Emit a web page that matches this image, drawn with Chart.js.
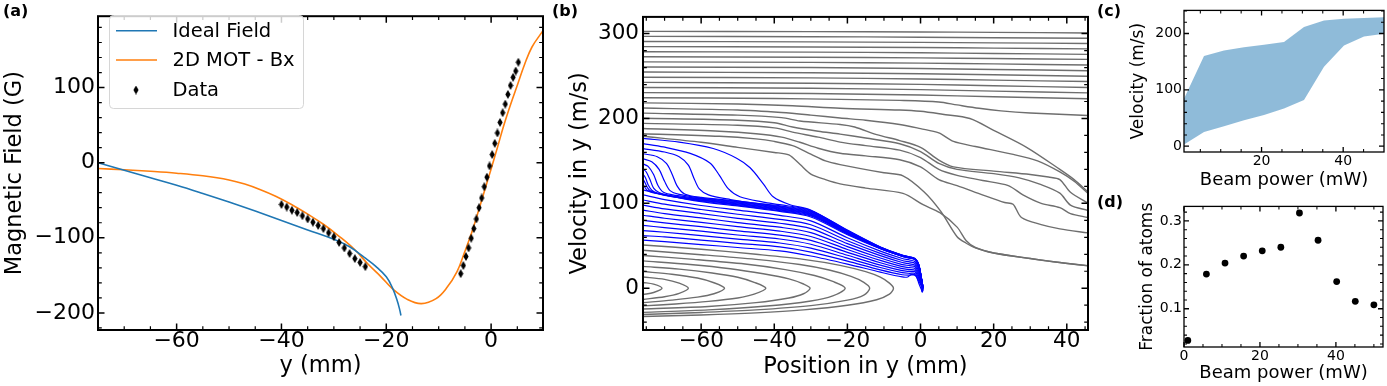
<!DOCTYPE html>
<html>
<head>
<meta charset="utf-8">
<script src="https://cdn.jsdelivr.net/npm/chart.js@4/dist/chart.umd.min.js"></script>
<style>
html, body { margin: 0; padding: 0; background: #fff; }
#wrap { position: relative; width: 1387px; height: 386px; overflow: hidden; }
canvas { position: absolute; }
.lbl { position: absolute; font: bold 16px "DejaVu Sans"; line-height: 1; color: #000; }
</style>
</head>
<body>
<div id="wrap">
  <canvas id="ca" style="left:0;top:0" width="548" height="386"></canvas>
  <canvas id="cb" style="left:548px;top:0" width="548" height="386"></canvas>
  <canvas id="cc" style="left:1096px;top:0" width="291" height="196"></canvas>
  <canvas id="cd" style="left:1096px;top:196px" width="291" height="190"></canvas>
  <div class="lbl" style="left:3px;top:3px">(a)</div>
  <div class="lbl" style="left:552px;top:3px">(b)</div>
  <div class="lbl" style="left:1097px;top:3px">(c)</div>
  <div class="lbl" style="left:1097px;top:194px">(d)</div>
</div>
<script>
// ---- (a) magnetic field ----
var aXTicks = [-60, -40, -20, 0];
var aXLabels = ['\u221260', '\u221240', '\u221220', '0'];
var aYTicks = [-200, -100, 0, 100];
var aYLabels = ['\u2212200', '\u2212100', '0', '100'];
var idealField = [[-75,0],[-70,-10],[-65,-20],[-60,-30],[-55,-41],[-50,-52.5],[-45,-64.5],[-40,-77],[-35,-89.5],
  [-30,-102],[-27,-112],[-24.2,-126],[-22,-138],[-20,-152],[-18.8,-167],[-18,-182],[-17.5,-194],[-17.2,-203.5]];
var motBx = [[-75,-7.7],[-70,-9.5],[-65,-11.5],[-60,-14],[-55,-17.5],[-50,-23],[-47,-28.5],[-44,-36],[-41,-45],
  [-38,-56],[-35,-68.5],[-32,-82],[-29,-98],[-26,-116],[-23.5,-135],[-21,-152],[-18.8,-168],[-16,-182],[-13.3,-187.7],
  [-10.5,-181],[-8.5,-167],[-6.5,-145],[-5.1,-120],[-3.7,-93],[-2.4,-64],[-1.2,-36],[0,-8.5],[1.2,20],[2.4,49],
  [3.7,77],[5.1,105],[6.4,131],[7.8,154],[9.9,175.7]];
var dataX = [-40,-39,-38,-37,-36,-35,-34,-33,-32,-31,-30,-29,-28,-27,-26,-25,-24,
  -5.8,-5.3,-4.8,-4.3,-3.8,-3.3,-2.8,-2.3,-1.8,-1.3,-0.8,-0.3,0.2,0.7,1.2,1.7,2.2,2.7,3.2,3.7,4.2,4.7,5.2];
var dataB = [-55.7,-59.1,-63.4,-66.4,-70.7,-75,-79.3,-83.6,-87.8,-93.4,-98.6,-106.3,-113.6,-120.9,-127.7,-132.9,-138.5,
  -147.8,-137,-125,-113.5,-100.6,-87.8,-75,-60,-47,-32,-19.3,-4.3,10.8,25.7,39.5,53.6,66.5,78,90.9,102.8,113.6,122,133.7];

// ---- (b) trajectories ----
var bXTicks = [-60, -40, -20, 0, 20, 40];
var bXLabels = ['\u221260', '\u221240', '\u221220', '0', '20', '40'];
var bYTicks = [0, 100, 200, 300];
var bYLabels = ['0', '100', '200', '300'];
var grayFlat = [
  [[-75.9,302.7],[-30,302.4],[0,301.9],[20,301.5],[45.8,300.8]],
  [[-75.9,296.7],[-30,296.4],[0,295.8],[20,295.2],[45.8,294.5]],
  [[-75.9,290.7],[-30,290.3],[0,289.7],[20,289.1],[45.8,288.4]],
  [[-75.9,284.7],[-30,284.3],[0,283.6],[20,282.9],[45.8,282.0]],
  [[-75.9,278.7],[-30,278.2],[0,277.4],[20,276.6],[45.8,275.6]],
  [[-75.9,272.7],[-30,272.2],[0,271.4],[20,270.6],[45.8,269.6]],
  [[-75.9,266.7],[-30,266.1],[0,265.2],[20,264.3],[45.8,263.1]],
  [[-75.9,260.7],[-30,260.0],[0,258.9],[20,257.8],[45.8,256.3]],
  [[-75.9,254.7],[-30,253.9],[0,252.7],[20,251.5],[45.8,249.8]],
  [[-75.9,248.6],[-30,247.8],[0,246.6],[20,245.2],[45.8,243.5]],
  [[-75.9,242.6],[-30,241.6],[0,240.2],[20,238.6],[45.8,236.6]],
  [[-75.9,236.6],[-30,235.6],[0,234.0],[20,232.3],[45.8,230.2]],
  [[-75.9,230.5],[-30,229.4],[0,227.6],[20,225.7],[45.8,223.3]]
];
var grayDesc = [
  [[-75.9,224.5],[-40,223.6],[-22,222.5],[-5.7,221.3],[5,219.5],[10,216],[16,212],[22,209],[30,206.5],[45.8,203.6]],
  [[-75.9,218.4],[-50,217],[-35,215],[-22,212],[-5.7,210],[0,208.5],[6,205],[13.5,200],[20,186],[29,166],[38.1,140],[42,128],[45.8,113.5]],
  [[-75.9,212.3],[-50,210],[-38,207],[-30,204],[-22,200.6],[-15,198],[-5.7,193],[0,188],[5,183],[9,173],[15,167],[25,158],[32,150],[38.1,137],[42,126],[45.8,111.7]],
  [[-75.9,206.3],[-50,204],[-38,201],[-33,197],[-22,193],[-18,190],[-12,181],[-5.7,174],[0,166],[5,151],[9,143],[20,138],[30,134],[35,131],[38.1,128],[41,113],[45.8,100.3]],
  [[-75.9,200.3],[-50,198],[-40,195],[-35,190],[-28,185],[-22,181.6],[-15,177],[-5.7,170.3],[0,161],[5,147],[10,140],[20,135],[27,130],[33,122],[38.1,112],[41,98],[45.8,91.6]],
  [[-75.9,194.2],[-50,192],[-40,189],[-35,184],[-28,178],[-22,172.2],[-15,168],[-5.7,162.8],[0,154],[5,140],[10,133],[17,127],[24,121],[28,110],[33,100],[38.1,95],[41,88],[45.8,83.3]],
  [[-75.9,188.2],[-55,185],[-45,182],[-38,178],[-33,172],[-28,165],[-22,159],[-15,156],[-5.7,151.4],[0,143],[5,128],[10,121],[17.1,109.8],[23,101],[25.3,99],[27.6,83.3],[33,75],[38.1,70],[45.8,65.2]],
  [[-75.9,182.1],[-55,179],[-45,176],[-40,173],[-35,168],[-30,158],[-26,150],[-22,145.7],[-10,136],[-4.8,132.5],[1,113.5],[5.5,90.8],[10,60.6],[12.5,53],[15,47.5],[20,41.5],[30,35],[38.1,30.3],[45.8,26.6]],
  [[-75.9,179],[-60,172],[-50,166],[-40,160],[-36,157],[-33,146],[-30,134.5],[-26,128],[-22,123],[-15,118],[-4.8,111.7],[0.7,98.4],[5.3,89],[10,72],[12.5,56],[15,48],[20,41.5],[30,35],[38.1,30.3],[45.8,26.4]]
];
var blueCaught = [
  [[-75.9,176.5],[-66,172.2],[-56.7,164.6],[-50.3,153.2],[-46.6,141.9],[-43,123],[-40.3,107.8],[-35.7,98.4],[-30.2,92.5],[-20,68.5],[-11,48.6],[-5,39],[-3,37],[-1.5,35],[-0.5,28],[0.2,13],[0.6,2],[0.4,-3]],
  [[-75.9,170.5],[-70.3,166.5],[-63,158.9],[-57.6,147.6],[-55,133],[-52.6,117.4],[-49.4,107.8],[-43,101.5],[-38.5,98.5],[-30,91.6],[-20,68],[-11,48.4],[-5,38.9],[-3,36.9],[-1.5,34.9],[-0.5,27.9],[0.2,12.9],[0.6,2],[0.4,-3]],
  [[-75.9,164.5],[-70,160.5],[-66,155],[-63.5,145],[-62,130],[-60.5,117],[-58,110],[-52,104.5],[-45,100],[-38.5,97.1],[-30,90.8],[-20,67.5],[-11,48.2],[-5,38.8],[-3,36.8],[-1.5,34.8],[-0.5,27.8],[0.2,12.8],[0.6,2],[0.4,-3]],
  [[-75.9,158.5],[-72,155],[-69.5,147],[-68,135],[-66.5,120],[-64.5,111],[-60,107],[-50,102.6],[-38.5,96.3],[-30,90],[-20,67],[-11,48],[-5,38.6],[-3,36.6],[-1.5,34.6],[-0.5,27.6],[0.2,12.7],[0.6,2],[0.4,-3]],
  [[-75.9,152.5],[-73.5,149],[-71.5,140],[-70,126],[-68.5,115],[-66,110.5],[-60,106.3],[-50,101.8],[-38.5,95.5],[-30,89.2],[-20,66.5],[-11,47.8],[-5,38.5],[-3,36.5],[-1.5,34.5],[-0.5,27.5],[0.2,12.6],[0.6,2],[0.4,-3]],
  [[-75.9,146.5],[-74.5,143.5],[-73,134],[-71.8,121],[-70.3,113],[-67,109.5],[-60,105.6],[-50,101],[-38.5,94.7],[-30,88.4],[-20,66],[-11,47.6],[-5,38.3],[-3,36.3],[-1.5,34.3],[-0.5,27.3],[0.2,12.5],[0.6,2],[0.4,-3]],
  [[-75.9,140.5],[-75,137],[-74,128],[-73,118],[-71.5,112.8],[-68,109],[-60,104.9],[-50,100.2],[-38.5,93.9],[-30,87.6],[-20,65.5],[-11,47.4],[-5,38.2],[-3,36.2],[-1.5,34.2],[-0.5,27.2],[0.2,12.4],[0.6,2],[0.4,-3]],
  [[-75.9,134.5],[-75.2,130],[-74.5,122],[-73.5,115.5],[-72,112.2],[-68,108.4],[-60,104.2],[-50,99.4],[-38.5,93.1],[-30,86.8],[-20,65],[-11,47.2],[-5,38],[-3,36],[-1.5,34],[-0.5,27],[0.2,12.3],[0.6,2],[0.4,-3]],
  [[-75.9,128.5],[-75.3,124],[-74.6,118],[-73.8,114.5],[-72,111.6],[-68,107.8],[-60,103.5],[-50,98.6],[-38.5,92.3],[-30,86],[-20,64.5],[-11,47],[-5,37.9],[-3,35.9],[-1.5,33.9],[-0.5,26.9],[0.2,12.2],[0.6,2],[0.4,-3]],
  [[-75.9,122.5],[-75.4,119],[-74.8,115.5],[-73.5,113],[-71,110.7],[-66,106.8],[-60,102.8],[-50,97.8],[-38.5,91.5],[-30,85.2],[-20,64],[-11,46.8],[-5,37.7],[-3,35.7],[-1.5,33.7],[-0.5,26.7],[0.2,12.1],[0.6,2],[0.4,-3]],
  [[-75.9,116],[-70,110],[-60,102],[-50,97],[-38.5,90.5],[-30,84],[-20,63],[-11,46.5],[-5,37.5],[-3,35.5],[-1.5,33.5],[-0.5,26.5],[0.2,12],[0.6,2],[0.4,-3]],
  [[-75.9,110],[-70,104.5],[-60,97.5],[-50,92.1],[-38.5,85.9],[-30,79.4],[-20,59.5],[-11,43.8],[-5,35.1],[-3,33.3],[-1.5,31.3],[-0.5,24.5],[0.2,11],[0.6,1.5],[0.4,-3]],
  [[-75.9,104],[-70,99],[-60,92.8],[-50,87.2],[-38.5,81.2],[-30,74.8],[-20,56],[-11,41.1],[-5,32.7],[-3,31],[-1.5,29.2],[-0.5,22.5],[0.2,10],[0.6,1],[0.4,-3]],
  [[-75.9,98],[-70,93.5],[-60,88],[-50,82.3],[-38.5,76.6],[-30,70.2],[-20,52.5],[-11,38.4],[-5,30.3],[-3,28.8],[-1.5,27.2],[-0.5,20.5],[0.2,9],[0.6,0.5],[0.4,-3.5]],
  [[-75.9,92],[-70,88],[-60,82.8],[-50,77.4],[-38.5,71.9],[-30,65.6],[-20,49.1],[-11,35.6],[-5,27.9],[-3,26.6],[-1.5,25.2],[-0.5,18.5],[0.2,8],[0.6,0],[0.4,-3.5]],
  [[-75.9,86],[-70,82.5],[-60,77.7],[-50,72.5],[-38.5,67.3],[-30,61],[-20,45.7],[-11,32.8],[-5,25.5],[-3,24.3],[-1.5,23.2],[-0.5,16.5],[0.2,7],[0.6,-0.5],[0.4,-3.5]],
  [[-75.9,80],[-70,77],[-60,72.5],[-50,67.6],[-38.5,62.6],[-30,56.4],[-20,42.3],[-11,30],[-5,23.1],[-3,22],[-1.5,21.2],[-0.5,14.5],[0.2,6],[0.6,-1],[0.4,-4]],
  [[-75.9,74],[-70,71.5],[-60,67.3],[-50,62.7],[-38.5,58],[-30,51.8],[-20,38.9],[-11,27.2],[-5,20.7],[-3,19.8],[-1.5,19.3],[-0.5,12.5],[0.2,5],[0.6,-1.5],[0.4,-4]],
  [[-75.9,68],[-70,66],[-60,62],[-50,57.8],[-38.5,53.3],[-30,47.2],[-20,35.5],[-11,24.4],[-5,18.3],[-3,17.6],[-1.5,17.5],[-0.5,10.5],[0.2,4],[0.6,-2],[0.4,-4.5]],
  [[-75.9,62],[-70,60.5],[-60,56.8],[-50,52.9],[-38.5,48.7],[-30,42.6],[-20,32],[-11,21.7],[-5,15.9],[-3,15.5],[-1.5,15.8],[-0.5,8.5],[0.2,2.5],[0.6,-2.5],[0.4,-4.5]],
  [[-75.9,56.8],[-70,55],[-60,51.5],[-50,48],[-38.5,44],[-30,38],[-20,28.5],[-11,19],[-5,13.3],[-3.5,13.3],[-2.5,16.3],[-1.2,14],[-0.4,5],[0.2,-1],[0.6,-3],[0.4,-5]]
];
var grayBounce = [
  [[-75.9,6.8],[-73,4.8],[-70.7,0],[-73,-5],[-75.9,-7.5]],
  [[-75.9,13.3],[-70,10.5],[-66,6],[-63.5,0],[-66,-6],[-70,-10],[-75.9,-13.2]],
  [[-75.9,19.7],[-68,16.5],[-61,12],[-56.5,6.5],[-53.6,0],[-56.5,-6.5],[-61,-10.5],[-68,-14],[-75.9,-17]],
  [[-75.9,25.8],[-66,22.5],[-57,18],[-50,13],[-45.5,7],[-42.3,0],[-45.5,-7],[-50,-11.5],[-58,-15.5],[-67,-18.5],[-75.9,-20.8]],
  [[-75.9,32.2],[-63,28],[-52,23],[-43,17],[-36,11],[-32,5],[-30.2,0],[-32,-6.5],[-36,-11.5],[-45,-17],[-58,-21.5],[-75.9,-24.5]],
  [[-75.9,38.6],[-62,34],[-48,28.5],[-37,22],[-29,15],[-24,8],[-20.6,0],[-24,-9],[-30,-15],[-42,-21],[-58,-25.5],[-75.9,-28.4]],
  [[-75.9,44.7],[-60,39.5],[-45,34],[-33,28],[-25,21.5],[-19,14],[-15.5,7],[-13.9,0],[-15.5,-8],[-20,-14],[-30,-20.5],[-45,-25.5],[-60,-28.5],[-75.9,-31]],
  [[-75.9,51],[-60,46],[-45,40],[-32,34],[-22,27],[-15,19.5],[-11,13],[-8.5,6],[-7.4,0],[-8.5,-7],[-12,-13.5],[-20,-20],[-32,-25.5],[-45,-29],[-60,-31.5],[-75.9,-33.3]]
];

// ---- (c) velocity window, (d) fraction ----
var power = [1, 5.9, 10.8, 15.7, 20.6, 25.5, 30.4, 35.3, 40.2, 45.1, 50];
var vHigh = [84, 160, 170, 175.6, 180, 185, 211.6, 223, 226, 227.6, 229];
var vLow = [3, 25, 35.5, 46, 55.5, 67, 82, 141, 178.5, 194.5, 199.6];
var fraction = [0.028, 0.179, 0.204, 0.220, 0.232, 0.240, 0.318, 0.256, 0.162, 0.117, 0.109];
var cXTicks = [20, 40], cYTicks = [0, 100, 200];
var dXTicks = [0, 20, 40], dYTicks = [0.1, 0.2, 0.3];

Chart.defaults.font.family = '"DejaVu Sans", sans-serif';
Chart.defaults.color = '#000';

function pts(a) { return a.map(function (p) { return {x: p[0], y: p[1]}; }); }
function zip(xs, ys) { return xs.map(function (x, i) { return {x: x, y: ys[i]}; }); }

function xAxis(min, max, ticks, labels, size, pad, title, tSize, tPad, h) {
  return {
    type: 'linear', position: 'bottom', min: min, max: max,
    grid: {display: false, drawTicks: false}, border: {display: false},
    afterBuildTicks: function (s) { s.ticks = ticks.map(function (v) { return {value: v}; }); },
    afterFit: function (s) { s.height = h; },
    ticks: {autoSkip: false, maxRotation: 0, padding: pad, font: {size: size, lineHeight: 1},
      callback: function (v, i) { return labels[i]; }},
    title: {display: true, text: title, font: {size: tSize}, padding: {top: 0, bottom: tPad}}
  };
}
function yAxis(min, max, ticks, labels, size, pad, title, tSize, tPad, w) {
  return {
    type: 'linear', position: 'left', min: min, max: max,
    grid: {display: false, drawTicks: false}, border: {display: false},
    afterBuildTicks: function (s) { s.ticks = ticks.map(function (v) { return {value: v}; }); },
    afterFit: function (s) { s.width = w; },
    ticks: {autoSkip: false, padding: pad, font: {size: size},
      callback: function (v, i) { return labels[i]; }},
    title: {display: true, text: title, font: {size: tSize}, padding: {top: tPad, bottom: 0}}
  };
}

// inward ticks on all four sides, plus the frame
var inTicks = {
  id: 'inTicks',
  afterDraw: function (chart, args, o) {
    var ctx = chart.ctx, a = chart.chartArea, sx = chart.scales.x, sy = chart.scales.y;
    function minors(s, step, majors) {
      var out = [];
      for (var k = Math.ceil(s.min / step); k * step < s.max; k++) {
        var v = k * step;
        if (v <= s.min) continue;
        if (majors.some(function (m) { return Math.abs(m - v) < step / 10; })) continue;
        out.push(v);
      }
      return out;
    }
    function marks(s, vals, len, lw) {
      ctx.lineWidth = lw;
      ctx.beginPath();
      vals.forEach(function (v) {
        var p = s.getPixelForValue(v);
        if (s.isHorizontal()) {
          ctx.moveTo(p, a.bottom); ctx.lineTo(p, a.bottom - len);
          ctx.moveTo(p, a.top); ctx.lineTo(p, a.top + len);
        } else {
          ctx.moveTo(a.left, p); ctx.lineTo(a.left + len, p);
          ctx.moveTo(a.right, p); ctx.lineTo(a.right - len, p);
        }
      });
      ctx.stroke();
    }
    ctx.save();
    ctx.strokeStyle = '#000';
    marks(sx, o.xTicks, o.major, o.lw);
    marks(sy, o.yTicks, o.major, o.lw);
    marks(sx, minors(sx, o.xMinor, o.xTicks), o.minor, o.lw * 0.8);
    marks(sy, minors(sy, o.yMinor, o.yTicks), o.minor, o.lw * 0.8);
    ctx.lineWidth = o.frame;
    ctx.strokeRect(a.left, a.top, a.right - a.left, a.bottom - a.top);
    ctx.restore();
  }
};

// legend box of panel (a), drawn on the chart canvas
var legendA = {
  id: 'legendA',
  afterDraw: function (chart) {
    var ctx = chart.ctx;
    ctx.save();
    ctx.beginPath();
    ctx.roundRect(109.5, 15.5, 194, 93, 4);
    ctx.globalAlpha = 0.8; ctx.fillStyle = '#fff'; ctx.fill();
    ctx.globalAlpha = 1; ctx.strokeStyle = '#d6d6d6'; ctx.lineWidth = 1; ctx.stroke();
    var rows = [['Ideal Field', '#1f77b4', 30.7], ['2D MOT - Bx', '#ff7f0e', 60], ['Data', null, 90]];
    ctx.font = '19.5px "DejaVu Sans"';
    ctx.textBaseline = 'middle';
    ctx.fillStyle = '#000';
    rows.forEach(function (r) {
      if (r[1]) {
        ctx.strokeStyle = r[1]; ctx.lineWidth = 1.6;
        ctx.beginPath(); ctx.moveTo(116, r[2]); ctx.lineTo(157, r[2]); ctx.stroke();
      } else {
        ctx.drawImage(diamond, 136 - diamond.width / 2, r[2] - diamond.height / 2);
      }
      ctx.fillText(r[0], 172.5, r[2] + 1);
    });
    ctx.restore();
  }
};

// thin diamond marker
var diamond = document.createElement('canvas');
diamond.width = 6; diamond.height = 9;
(function () {
  var g = diamond.getContext('2d');
  g.fillStyle = '#000';
  g.beginPath(); g.moveTo(3, 0); g.lineTo(5.6, 4.5); g.lineTo(3, 9); g.lineTo(0.4, 4.5); g.closePath(); g.fill();
})();

var base = {responsive: false, animation: false, events: [],
  elements: {point: {radius: 0}}};

function opts(pad, scales, ticksCfg) {
  return Object.assign({}, base, {
    layout: {padding: pad},
    scales: scales,
    plugins: {legend: {display: false}, tooltip: {enabled: false}, inTicks: ticksCfg}
  });
}

// (a)
new Chart(document.getElementById('ca'), {
  type: 'line',
  data: {datasets: [
    {data: zip(dataX, dataB), showLine: false, pointStyle: diamond, pointRadius: 4, borderWidth: 0},
    {data: pts(idealField), borderColor: '#1f77b4', borderWidth: 1.6, tension: 0.4, fill: false},
    {data: pts(motBx), borderColor: '#ff7f0e', borderWidth: 1.6, tension: 0.4, fill: false}
  ]},
  options: opts({left: 0, top: 5, right: 5, bottom: 0}, {
    x: xAxis(-75, 9.9, aXTicks, aXLabels, 22, 0.5, 'y (mm)', 22.5, 6.5, 56),
    y: yAxis(-222.8, 195, aYTicks, aYLabels, 22, 3, 'Magnetic Field (G)', 22.5, 1.5, 98)
  }, {xTicks: aXTicks, yTicks: aYTicks, xMinor: 5, yMinor: 20, major: 6.5, minor: 3.8, lw: 1.5, frame: 2}),
  plugins: [inTicks, legendA]
});

// (b)
var bSets = [];
blueCaught.forEach(function (c) {
  bSets.push({data: pts(c), borderColor: '#0000ff', borderWidth: 1.2, tension: 0.3, fill: false});
});
grayDesc.concat(grayFlat, grayBounce).forEach(function (c) {
  bSets.push({data: pts(c), borderColor: '#6e6e6e', borderWidth: 1.4, tension: 0.3, fill: false});
});
new Chart(document.getElementById('cb'), {
  type: 'line',
  data: {datasets: bSets},
  options: opts({left: 0, top: 5, right: 8, bottom: 0}, {
    x: xAxis(-75.9, 45.8, bXTicks, bXLabels, 21.5, 0.5, 'Position in y (mm)', 22.5, 5.5, 56),
    y: yAxis(-49.2, 319.7, bYTicks, bYLabels, 21.5, 4, 'Velocity in y (m/s)', 22.5, 19, 95)
  }, {xTicks: bXTicks, yTicks: bYTicks, xMinor: 5, yMinor: 20, major: 6.5, minor: 3.8, lw: 1.5, frame: 2}),
  plugins: [inTicks]
});

// (c)
new Chart(document.getElementById('cc'), {
  type: 'line',
  data: {datasets: [
    {data: zip(power, vHigh), borderWidth: 0, borderColor: 'rgba(0,0,0,0)', fill: '+1',
      backgroundColor: 'rgba(31,119,180,0.5)', tension: 0},
    {data: zip(power, vLow), borderWidth: 0, borderColor: 'rgba(0,0,0,0)', fill: false, tension: 0}
  ]},
  options: opts({left: 0, top: 5, right: 3, bottom: 0}, {
    x: xAxis(1, 50, cXTicks, ['20', '40'], 14, 2, 'Beam power (mW)', 18, 5.2, 44),
    y: yAxis(-10.3, 241, cYTicks, ['0', '100', '200'], 14, 2, 'Velocity (m/s)', 17, 32.8, 88)
  }, {xTicks: cXTicks, yTicks: cYTicks, xMinor: 5, yMinor: 20, major: 5, minor: 3, lw: 1.3, frame: 1.3}),
  plugins: [inTicks]
});

// (d)
new Chart(document.getElementById('cd'), {
  type: 'line',
  data: {datasets: [
    {data: zip(power, fraction), showLine: false, pointRadius: 3.4, pointBackgroundColor: '#000',
      pointBorderWidth: 0, borderColor: '#000'}
  ]},
  options: opts({left: 0, top: 6, right: 3, bottom: 0}, {
    x: xAxis(0, 52.4, dXTicks, ['0', '20', '40'], 14, 2, 'Beam power (mW)', 18, 1.7, 39),
    y: yAxis(0.013, 0.333, dYTicks, ['0.1', '0.2', '0.3'], 14, 2, 'Fraction of atoms', 17, 41.3, 88)
  }, {xTicks: dXTicks, yTicks: dYTicks, xMinor: 5, yMinor: 0.02, major: 5, minor: 3, lw: 1.3, frame: 1.3}),
  plugins: [inTicks]
});
</script>
</body>
</html>
